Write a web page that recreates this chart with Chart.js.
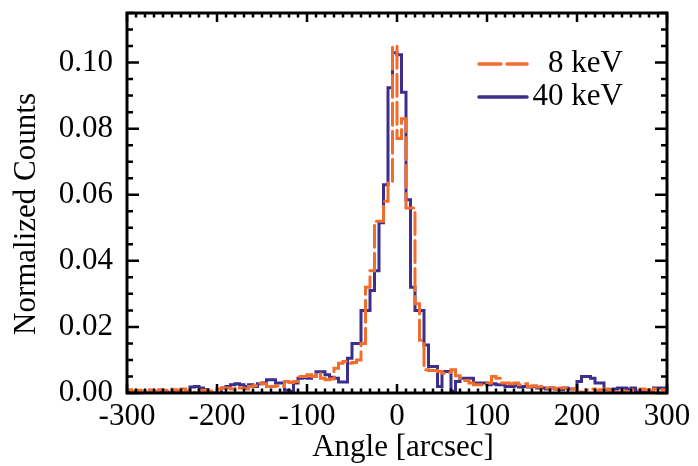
<!DOCTYPE html>
<html><head><meta charset="utf-8">
<script src="https://cdn.jsdelivr.net/npm/chart.js@4"></script>
<style>html,body{margin:0;padding:0;background:#fff}canvas{display:block}</style>
</head><body>
<canvas id="c" width="698" height="466"></canvas>
<script>
// Histogram bins: 5 arcsec wide, left edges from -300
const binStart = -300;
const binWidth = 5;
const xTicks = [-300, -200, -100, 0, 100, 200, 300];
const yTicks = [0.00, 0.02, 0.04, 0.06, 0.08, 0.10];
const seriesLabels = ['8 keV', '40 keV'];
const xTitle = 'Angle [arcsec]';
const yTitle = 'Normalized Counts';

const counts8keV = [
 0.0008,0.0010,0.0005,0.0008,0.0005,0.0010,0.0008,0.0005,0.0010,0.0008,
 0.0012,0.0010,0.0008,0.0012,0.0005,0.0002,0.0000,0.0008,0.0008,0.0006,
 0.0010,0.0012,0.0015,0.0015,0.0012,0.0018,0.0015,0.0012,0.0020,0.0022,
 0.0030,0.0028,0.0020,0.0020,0.0022,0.0020,0.0035,0.0032,0.0035,0.0050,
 0.0050,0.0055,0.0050,0.0060,0.0045,0.0040,0.0042,0.0075,0.0090,0.0095,
 0.0090,0.0092,0.0100,0.0150,0.0320,0.0370,0.0520,0.0520,0.0580,0.0640,
 0.1050,0.0770,0.0830,0.0560,0.0560,0.0270,0.0160,0.0070,0.0068,0.0068,
 0.0065,0.0060,0.0062,0.0070,0.0052,0.0045,0.0038,0.0030,0.0025,0.0025,
 0.0028,0.0030,0.0050,0.0045,0.0030,0.0030,0.0028,0.0030,0.0025,0.0028,
 0.0020,0.0022,0.0018,0.0020,0.0015,0.0015,0.0012,0.0015,0.0015,0.0012,
 0.0012,0.0003,0.0002,0.0010,0.0012,0.0008,0.0010,0.0012,0.0008,0.0003,
 0.0002,0.0005,0.0003,0.0010,0.0008,0.0012,0.0010,0.0008,0.0012,0.0010
];
const counts40keV = [
 0.0005,0.0003,0.0000,0.0000,0.0005,0.0000,0.0003,0.0000,0.0005,0.0003,
 0.0000,0.0005,0.0003,0.0000,0.0005,0.0018,0.0020,0.0015,0.0010,0.0000,
 0.0000,0.0000,0.0015,0.0020,0.0025,0.0028,0.0025,0.0020,0.0025,0.0020,
 0.0028,0.0030,0.0040,0.0040,0.0030,0.0030,0.0008,0.0005,0.0030,0.0045,
 0.0046,0.0045,0.0050,0.0064,0.0064,0.0055,0.0048,0.0045,0.0033,0.0033,
 0.0105,0.0150,0.0150,0.0250,0.0250,0.0310,0.0370,0.0515,0.0630,0.0924,
 0.1030,0.1024,0.0910,0.0585,0.0320,0.0250,0.0250,0.0145,0.0080,0.0080,
 0.0020,0.0065,0.0065,0.0005,0.0035,0.0045,0.0045,0.0045,0.0030,0.0030,
 0.0030,0.0025,0.0028,0.0025,0.0025,0.0020,0.0020,0.0022,0.0018,0.0020,
 0.0018,0.0020,0.0015,0.0015,0.0012,0.0015,0.0012,0.0010,0.0015,0.0012,
 0.0012,0.0035,0.0050,0.0050,0.0045,0.0030,0.0030,0.0010,0.0010,0.0012,
 0.0015,0.0015,0.0012,0.0015,0.0005,0.0003,0.0005,0.0003,0.0015,0.0015
];

const ORANGE = '#f26c2c';
const BLUE = '#3c2e8c';
const FONT = 'Liberation Serif';
const FSIZE = 31;

function toSteps(vals) {
  const pts = vals.map((v, i) => ({ x: binStart + i * binWidth, y: v }));
  pts.push({ x: binStart + vals.length * binWidth, y: vals[vals.length - 1] });
  return pts;
}

const framePlugin = {
  id: 'frame',
  afterDatasetsDraw(chart) {
    const { ctx, chartArea: a, scales: { x, y } } = chart;
    ctx.save();
    ctx.strokeStyle = '#000';
    ctx.lineWidth = 2.5;
    ctx.lineCap = 'butt';
    ctx.beginPath();
    for (let k = 0; k <= 60; k++) {
      const v = -300 + k * 10;
      const px = x.getPixelForValue(v);
      const L = (k % 10 === 0) ? 9 : 4.5;
      ctx.moveTo(px, a.bottom); ctx.lineTo(px, a.bottom - L);
      ctx.moveTo(px, a.top); ctx.lineTo(px, a.top + L);
    }
    for (let k = 0; k <= 23; k++) {
      const v = k * 0.005;
      const py = y.getPixelForValue(v);
      const L = (k % 4 === 0) ? 12 : 6;
      ctx.moveTo(a.left, py); ctx.lineTo(a.left + L, py);
      ctx.moveTo(a.right, py); ctx.lineTo(a.right - L, py);
    }
    ctx.stroke();
    ctx.lineWidth = 3;
    ctx.strokeRect(a.left, a.top, a.right - a.left, a.bottom - a.top);
    ctx.restore();
  }
};

const textPlugin = {
  id: 'texts',
  afterDraw(chart) {
    const { ctx } = chart;
    const items = [
      { text: seriesLabels[0], color: ORANGE, dash: [22, 6], y: 64 },
      { text: seriesLabels[1], color: BLUE, dash: [], y: 97 }
    ];
    ctx.save();
    ctx.font = FSIZE + 'px "' + FONT + '"';
    items.forEach(it => {
      ctx.strokeStyle = it.color;
      ctx.lineWidth = 3.5;
      ctx.lineCap = 'round';
      ctx.setLineDash(it.dash);
      ctx.beginPath();
      ctx.moveTo(479, it.y); ctx.lineTo(527, it.y);
      ctx.stroke();
      ctx.setLineDash([]);
      ctx.fillStyle = '#000';
      ctx.textAlign = 'right';
      ctx.textBaseline = 'middle';
      ctx.fillText(it.text, 623, it.y);
    });
    // axis titles
    ctx.fillStyle = '#000';
    ctx.textAlign = 'center';
    ctx.textBaseline = 'alphabetic';
    ctx.fillText(xTitle, 403, 456);
    ctx.save();
    ctx.translate(35, 214);
    ctx.rotate(-Math.PI / 2);
    ctx.fillText(yTitle, 0, 0);
    ctx.restore();
    ctx.restore();
  }
};

function fixX(s) { s.height = 73; s.paddingLeft = 0; s.paddingRight = 0; }
function fixY(s) { s.width = 127; s.paddingTop = 0; s.paddingBottom = 0; }

new Chart(document.getElementById('c'), {
  type: 'line',
  data: {
    datasets: [
      {
        label: seriesLabels[0],
        data: toSteps(counts8keV),
        borderColor: ORANGE,
        borderWidth: 3,
        borderDash: [22, 6],
        borderCapStyle: 'round',
        stepped: 'after',
        pointRadius: 0,
        fill: false
      },
      {
        label: seriesLabels[1],
        data: toSteps(counts40keV),
        borderColor: BLUE,
        borderWidth: 3,
        stepped: 'after',
        pointRadius: 0,
        fill: false
      }
    ]
  },
  options: {
    responsive: false,
    animation: false,
    devicePixelRatio: 1,
    layout: { padding: { top: 13, right: 31, left: 0, bottom: 0 } },
    plugins: { legend: { display: false }, tooltip: { enabled: false } },
    scales: {
      x: {
        type: 'linear', min: -300, max: 300,
        afterBuildTicks: s => { s.ticks = xTicks.map(v => ({ value: v })); },
        grid: { display: false, drawTicks: false },
        border: { display: false },
        ticks: { font: { family: FONT, size: FSIZE }, color: '#000', padding: 5, maxRotation: 0, autoSkip: false, callback: v => String(v) },
        afterFit: fixX
      },
      y: {
        type: 'linear', min: 0, max: 0.115,
        afterBuildTicks: s => { s.ticks = yTicks.map(v => ({ value: v })); },
        grid: { display: false, drawTicks: false },
        border: { display: false },
        ticks: { font: { family: FONT, size: FSIZE }, color: '#000', padding: 14, autoSkip: false, callback: v => Number(v).toFixed(2) },
        afterFit: fixY
      }
    }
  },
  plugins: [framePlugin, textPlugin]
});
</script>
</body></html>
